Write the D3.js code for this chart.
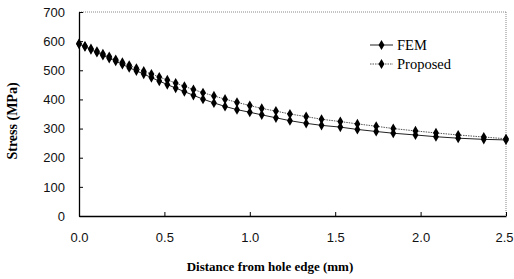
<!DOCTYPE html>
<html>
<head>
<meta charset="utf-8">
<script src="https://cdn.jsdelivr.net/npm/d3@7"></script>
<style>
  body { margin: 0; background: #fff; }
  svg { display: block; }
</style>
</head>
<body>
<div id="chart"></div>
<script>
// data
var distance = [0, 0.035, 0.07, 0.105, 0.14, 0.177, 0.215, 0.254, 0.294, 0.336,
  0.379, 0.424, 0.47, 0.517, 0.566, 0.617, 0.67, 0.726, 0.79, 0.855,
  0.925, 1.0, 1.07, 1.153, 1.235, 1.33, 1.42, 1.53, 1.63, 1.74,
  1.84, 1.97, 2.09, 2.22, 2.37, 2.5];
var fem = [590, 581, 571, 561, 551, 541, 531, 520, 509, 498,
  487, 475, 463, 451, 439, 427, 414, 401, 388, 376,
  365, 356, 347, 337, 327, 318, 311, 305, 297, 290,
  284, 278, 272, 267, 263, 261];
var proposed = [592, 583, 574, 565, 556, 547, 537, 527, 517, 507,
  497, 487, 477, 467, 456, 445, 434, 423, 412, 401,
  390, 379, 369, 360, 350, 341, 332, 324, 316, 308,
  300, 292, 285, 278, 271, 265];
var xTicks = [0, 0.5, 1.0, 1.5, 2.0, 2.5];
var yTicks = [0, 100, 200, 300, 400, 500, 600, 700];

var W = 514, H = 279;
var margin = {top: 12, right: 8, bottom: 63, left: 79};
var width = W - margin.left - margin.right;
var height = H - margin.top - margin.bottom;

var x = d3.scaleLinear().domain([0, 2.5]).range([0, width]);
var y = d3.scaleLinear().domain([0, 700]).range([height, 0]);

var svg = d3.select('#chart').append('svg')
  .attr('width', W).attr('height', H);
var g = svg.append('g')
  .attr('transform', 'translate(' + margin.left + ',' + margin.top + ')');

// dotted frame top / right
g.append('line').attr('x1', 0).attr('x2', width).attr('y1', 0).attr('y2', 0)
  .style('stroke', '#888').style('stroke-width', 1).style('stroke-dasharray', '1,1');
g.append('line').attr('x1', width).attr('x2', width).attr('y1', 0).attr('y2', height)
  .style('stroke', '#888').style('stroke-width', 1).style('stroke-dasharray', '1,1');

// axes
var xAxis = g.append('g').attr('class', 'axis axis--x')
  .attr('transform', 'translate(0,' + height + ')')
  .call(d3.axisBottom(x).tickValues(xTicks).tickFormat(d3.format('.1f'))
    .tickSizeInner(-4).tickSizeOuter(0).tickPadding(17));
g.append('g').attr('class', 'axis axis--y')
  .call(d3.axisLeft(y).tickValues(yTicks).tickSizeInner(-4).tickSizeOuter(0).tickPadding(14));

g.selectAll('.axis path').style('stroke', '#000').style('stroke-width', 1.3);
g.selectAll('.axis line').style('stroke', '#000');
g.selectAll('.axis text')
  .style('font-family', '"Liberation Sans", Arial, sans-serif')
  .style('font-size', '13px').style('fill', '#111');
// last label sits against the right edge
xAxis.selectAll('.tick text').filter(function(d) { return d === 2.5; })
  .attr('text-anchor', 'end').attr('x', 7);

// lines
var line = d3.line()
  .x(function(d) { return x(d.x); })
  .y(function(d) { return y(d.y); });

function toPoints(vals) {
  return distance.map(function(d, i) { return {x: d, y: vals[i]}; });
}

var series = [
  {key: 'FEM', values: toPoints(fem), dash: null, stroke: '#222', yLeg: 33},
  {key: 'Proposed', values: toPoints(proposed), dash: '1.5,1', stroke: '#555', yLeg: 52}
];

var diamond = d3.symbol().type(d3.symbolDiamond).size(30);

series.forEach(function(s) {
  g.append('path')
    .attr('d', line(s.values))
    .style('fill', 'none')
    .style('stroke', s.stroke)
    .style('stroke-width', 1)
    .style('stroke-dasharray', s.dash);
  g.selectAll('.m-' + s.key).data(s.values).enter().append('path')
    .attr('class', 'm-' + s.key)
    .attr('d', diamond)
    .attr('transform', function(d) { return 'translate(' + x(d.x) + ',' + y(d.y) + ')'; })
    .style('fill', '#000');

  // legend
  var lg = g.append('g').attr('transform', 'translate(' + (370 - margin.left) + ',' + s.yLeg + ')');
  lg.append('line').attr('x1', 0).attr('x2', 23).attr('y1', 0).attr('y2', 0)
    .style('stroke', s.stroke).style('stroke-dasharray', s.dash);
  lg.append('path').attr('d', diamond).attr('transform', 'translate(11.5,0)').style('fill', '#000');
  lg.append('text').attr('x', 27).attr('y', 5).text(s.key)
    .style('font-family', '"Liberation Serif", "Times New Roman", serif')
    .style('font-size', '14.5px').style('fill', '#000');
});

// axis titles
svg.append('text')
  .attr('x', 270).attr('y', 271)
  .attr('text-anchor', 'middle')
  .style('font-family', '"Liberation Serif", "Times New Roman", serif')
  .style('font-weight', 'bold').style('font-size', '13px')
  .text('Distance from hole edge (mm)');
svg.append('text')
  .attr('transform', 'translate(17,121) rotate(-90)')
  .attr('text-anchor', 'middle')
  .style('font-family', '"Liberation Serif", "Times New Roman", serif')
  .style('font-weight', 'bold').style('font-size', '14px')
  .text('Stress (MPa)');
</script>
</body>
</html>
